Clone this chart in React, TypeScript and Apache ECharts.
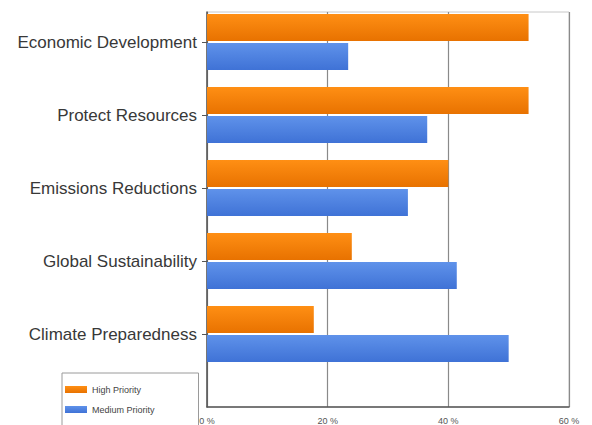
import React, { useEffect, useRef } from "react";
import * as echarts from "echarts";

const categories = [
  "Economic Development",
  "Protect Resources",
  "Emissions Reductions",
  "Global Sustainability",
  "Climate Preparedness",
];
const highPriority = [53.3, 53.3, 40, 24, 17.7];
const mediumPriority = [23.4, 36.5, 33.3, 41.4, 50];
const xTicks = { min: 0, max: 60, interval: 20 };

export default function App() {
  const ref = useRef<HTMLDivElement>(null);
  useEffect(() => {
    if (!ref.current) return;
    const chart = echarts.init(ref.current, null, { renderer: "svg" });
    const orange = new echarts.graphic.LinearGradient(0, 0, 0, 1, [
      { offset: 0, color: "#ff8f14" },
      { offset: 1, color: "#e87200" },
    ]);
    const blue = new echarts.graphic.LinearGradient(0, 0, 0, 1, [
      { offset: 0, color: "#5f92ea" },
      { offset: 1, color: "#3f72d6" },
    ]);
    chart.setOption({
      animation: false,
      backgroundColor: "#ffffff",
      grid: [
        {
          left: 207,
          right: 23,
          top: 12,
          bottom: 18,
          show: true,
          borderColor: "#c8c8c8",
          borderWidth: 1,
          backgroundColor: "transparent",
        },
        { left: 207, right: 23, top: 5.5, height: 365 },
      ],
      xAxis: [
        {
          gridIndex: 0,
          type: "value",
          min: xTicks.min,
          max: xTicks.max,
          interval: xTicks.interval,
          axisLine: { show: true, lineStyle: { color: "#555", width: 1.5 } },
          axisTick: { show: false },
          axisLabel: {
            formatter: "{value} %",
            fontSize: 9,
            color: "#555",
            margin: 9,
            fontFamily: "Liberation Sans",
          },
          splitLine: { show: true, lineStyle: { color: "#8a8a8a", width: 1.2 } },
        },
        {
          gridIndex: 1,
          type: "value",
          min: xTicks.min,
          max: xTicks.max,
          show: false,
          splitLine: { show: false },
        },
      ],
      yAxis: [
        {
          gridIndex: 0,
          type: "value",
          axisLine: { show: true, lineStyle: { color: "#555", width: 1.5 } },
          axisTick: { show: false },
          axisLabel: { show: false },
          splitLine: { show: false },
        },
        {
          gridIndex: 1,
          type: "category",
          data: categories,
          inverse: true,
          axisLine: { show: false },
          axisTick: {
            show: true,
            alignWithLabel: true,
            length: 5,
            lineStyle: { color: "#555" },
          },
          axisLabel: {
            fontSize: 17,
            color: "#383838",
            margin: 10,
            fontFamily: "Liberation Sans",
          },
        },
      ],
      legend: {
        orient: "vertical",
        left: 62,
        top: 373,
        height: 200,
        borderColor: "#9a9a9a",
        borderWidth: 1,
        padding: [12, 44, 20, 3],
        itemWidth: 22,
        itemHeight: 7,
        itemGap: 11,
        icon: "rect",
        textStyle: { fontSize: 9, color: "#444", fontFamily: "Liberation Sans" },
        data: ["High Priority", "Medium Priority"],
      },
      series: [
        {
          name: "High Priority",
          type: "bar",
          xAxisIndex: 1,
          yAxisIndex: 1,
          data: highPriority,
          barWidth: 27,
          barGap: "8%",
          itemStyle: { color: orange },
        },
        {
          name: "Medium Priority",
          type: "bar",
          xAxisIndex: 1,
          yAxisIndex: 1,
          data: mediumPriority,
          barWidth: 27,
          barGap: "8%",
          itemStyle: { color: blue },
        },
      ],
    });
    return () => chart.dispose();
  }, []);
  return <div ref={ref} style={{ width: 592, height: 425, position: "absolute", left: 0, top: 0 }} />;
}
